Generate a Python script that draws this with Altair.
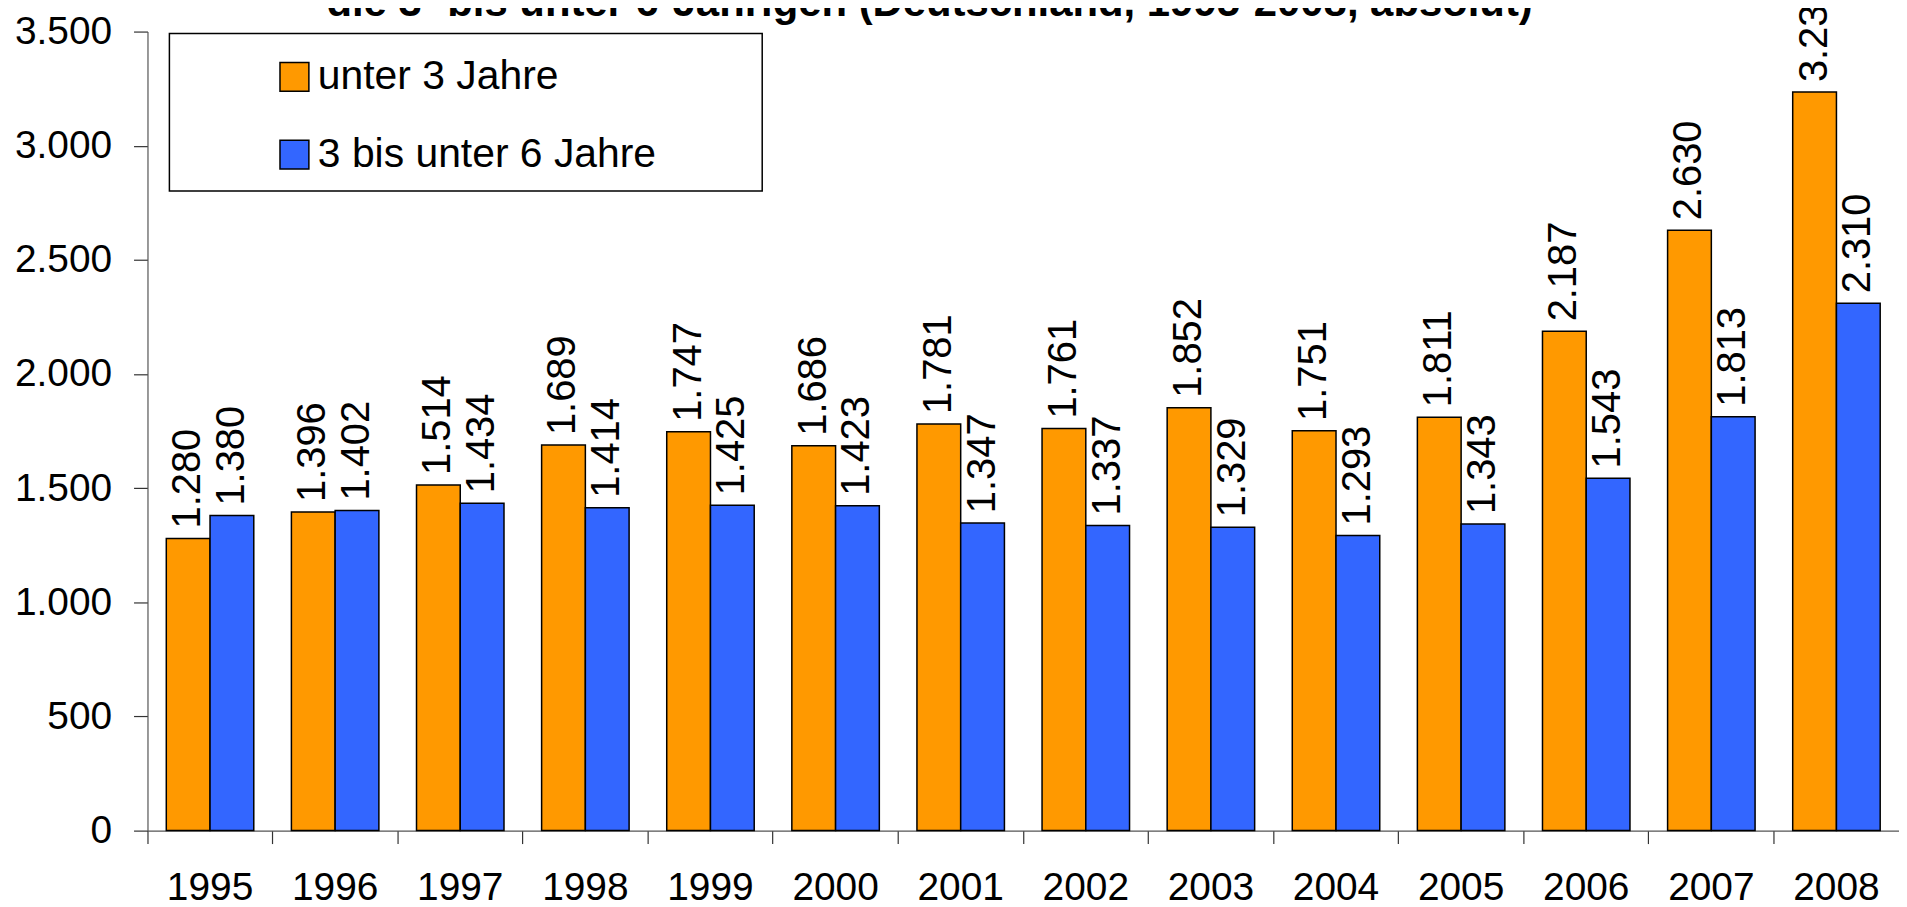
import altair as alt
import pandas as pd

# ---- data ----
years = ["1995", "1996", "1997", "1998", "1999", "2000", "2001",
         "2002", "2003", "2004", "2005", "2006", "2007", "2008"]
unter3 = [1280, 1396, 1514, 1689, 1747, 1686, 1781, 1761, 1852, 1751, 1811, 2187, 2630, 3235]
drei_bis_6 = [1380, 1402, 1434, 1414, 1425, 1423, 1347, 1337, 1329, 1293, 1343, 1543, 1813, 2310]
series = ["unter 3 Jahre", "3 bis unter 6 Jahre"]
colors = ["#FF9900", "#3366FF"]
y_ticks = [0, 500, 1000, 1500, 2000, 2500, 3000, 3500]
title_text = "die 3- bis unter 6-Jährigen (Deutschland, 1995-2008, absolut)"

rows = []
for i, yr in enumerate(years):
    rows.append({"Jahr": yr, "Gruppe": series[0], "Wert": unter3[i]})
    rows.append({"Jahr": yr, "Gruppe": series[1], "Wert": drei_bis_6[i]})
df = pd.DataFrame(rows)
df["Label"] = df["Wert"].map(lambda v: f"{v:,}".replace(",", "."))

FONT = "Liberation Sans"
W, H = 1758, 802

x_enc = alt.X(
    "Jahr:N", sort=years,
    scale=alt.Scale(paddingInner=0, paddingOuter=0),
    axis=alt.Axis(title=None, labelAngle=0, bandPosition=0, tickSize=13,
                  labelPadding=25, labelFontSize=39, labelFont=FONT,
                  labelColor="black", domainColor="#555555", tickColor="#333333",
                  domainWidth=1.2, tickWidth=1.2),
)
xo_enc = alt.XOffset("Gruppe:N", sort=series,
                     scale=alt.Scale(paddingInner=0, paddingOuter=0.43))
y_enc = alt.Y(
    "Wert:Q",
    scale=alt.Scale(domain=[0, 3500], nice=False),
    axis=alt.Axis(title=None, values=y_ticks, grid=False, tickSize=14,
                  labelPadding=22, labelFontSize=39, labelFont=FONT,
                  labelColor="black", domainColor="#555555", tickColor="#333333",
                  domainWidth=1.2, tickWidth=1.2,
                  labelExpr="replace(format(datum.value, ','), ',', '.')"),
)
color_enc = alt.Color(
    "Gruppe:N", sort=series,
    scale=alt.Scale(domain=series, range=colors),
    legend=alt.Legend(orient="none", legendX=127, legendY=25, title=None,
                      symbolType="square", symbolSize=841,
                      symbolStrokeColor="black", symbolStrokeWidth=1.5,
                      labelFontSize=41, labelFont=FONT, labelColor="black",
                      labelOffset=3, rowPadding=36, labelLimit=1000, padding=0),
)

bars = alt.Chart(df).mark_bar(stroke="black", strokeWidth=1.5).encode(
    x=x_enc, xOffset=xo_enc, y=y_enc, color=color_enc
)

labels = alt.Chart(df).mark_text(
    angle=270, align="left", baseline="middle", dx=10,
    fontSize=40, font=FONT, color="black"
).encode(x=x_enc, xOffset=xo_enc, y=y_enc, text="Label:N")

frame = alt.Chart(pd.DataFrame({"k": [0]})).mark_rect(
    fill="white", stroke="black", strokeWidth=1.5
).encode(x=alt.value(22), x2=alt.value(617), y=alt.value(2), y2=alt.value(160))

title = alt.Chart(pd.DataFrame({"t": [title_text]})).mark_text(
    align="center", baseline="alphabetic", fontSize=42, fontWeight="bold",
    font=FONT, color="black"
).encode(x=alt.value(785), y=alt.value(-16), text="t:N")

chart = alt.layer(bars, labels, frame, title).properties(
    width=W, height=H,
    autosize=alt.AutoSizeParams(type="none"),
    padding={"left": 140, "top": 22, "right": 0, "bottom": 73},
    background="white",
).configure_view(stroke=None)

chart.save("out.html", embed_options={"renderer": "svg", "actions": False})
